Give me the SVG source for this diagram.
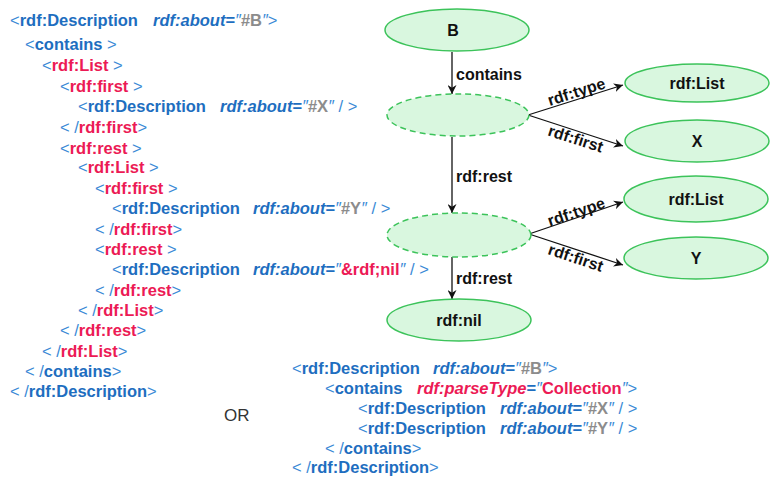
<svg xmlns="http://www.w3.org/2000/svg" width="784" height="487" viewBox="0 0 784 487">
<defs>
<marker id="ah" viewBox="0 0 10 10" refX="10" refY="5" markerWidth="9" markerHeight="9" markerUnits="userSpaceOnUse" orient="auto">
<path d="M0,0 L10,5 L0,10 L3,5 z" fill="#111"/>
</marker>
</defs>
<style>
text{font-family:"Liberation Sans",Arial,sans-serif;font-size:16.5px}
.t{fill:#1e6ec0;font-weight:bold}
.r{fill:#ec1a55;font-weight:bold}
.p{fill:#3a8ad6;font-weight:normal}
.i{font-style:italic}
.g{fill:#8c8c8c;font-weight:bold}
.q{fill:#3a8ad6;font-style:italic;font-weight:normal}
.n{fill:#111;font-weight:bold;font-size:16px;text-anchor:middle}
.e{fill:#111;font-weight:bold;font-size:16px}
.or{fill:#333;font-size:17px}
ellipse{fill:#d9f7df;stroke:#3cc35a;stroke-width:1.5}
.d{stroke-dasharray:6,4}
.c line{stroke:#111;stroke-width:1.3;marker-end:url(#ah)}
</style>
<rect width="784" height="487" fill="#fff"/>

<g id="xml-left">
<text x="10" y="26"><tspan class="p">&lt;</tspan><tspan class="t">rdf:Description</tspan><tspan x="153" class="t i">rdf:about</tspan><tspan class="t">=</tspan><tspan class="q">″</tspan><tspan class="g">#B</tspan><tspan class="q">″</tspan><tspan class="p">&gt;</tspan></text>
<text x="25" y="50"><tspan class="p">&lt;</tspan><tspan class="t">contains</tspan><tspan class="p"> &gt;</tspan></text>
<text x="42" y="71"><tspan class="p">&lt;</tspan><tspan class="r">rdf:List</tspan><tspan class="p"> &gt;</tspan></text>
<text x="60" y="92"><tspan class="p">&lt;</tspan><tspan class="r">rdf:first</tspan><tspan class="p"> &gt;</tspan></text>
<text x="78" y="112"><tspan class="p">&lt;</tspan><tspan class="t">rdf:Description</tspan><tspan x="220" class="t i">rdf:about</tspan><tspan class="t">=</tspan><tspan class="q">″</tspan><tspan class="g">#X</tspan><tspan class="q">″</tspan><tspan class="p"> / &gt;</tspan></text>
<text x="60" y="133"><tspan class="p">&lt; /</tspan><tspan class="r">rdf:first</tspan><tspan class="p">&gt;</tspan></text>
<text x="60" y="154"><tspan class="p">&lt;</tspan><tspan class="r">rdf:rest</tspan><tspan class="p"> &gt;</tspan></text>
<text x="78" y="173"><tspan class="p">&lt;</tspan><tspan class="r">rdf:List</tspan><tspan class="p"> &gt;</tspan></text>
<text x="95" y="194"><tspan class="p">&lt;</tspan><tspan class="r">rdf:first</tspan><tspan class="p"> &gt;</tspan></text>
<text x="112" y="214"><tspan class="p">&lt;</tspan><tspan class="t">rdf:Description</tspan><tspan x="253" class="t i">rdf:about</tspan><tspan class="t">=</tspan><tspan class="q">″</tspan><tspan class="g">#Y</tspan><tspan class="q">″</tspan><tspan class="p"> / &gt;</tspan></text>
<text x="95" y="235"><tspan class="p">&lt; /</tspan><tspan class="r">rdf:first</tspan><tspan class="p">&gt;</tspan></text>
<text x="95" y="255"><tspan class="p">&lt;</tspan><tspan class="r">rdf:rest</tspan><tspan class="p"> &gt;</tspan></text>
<text x="112" y="275"><tspan class="p">&lt;</tspan><tspan class="t">rdf:Description</tspan><tspan x="253" class="t i">rdf:about</tspan><tspan class="t">=</tspan><tspan class="q">″</tspan><tspan class="r">&amp;rdf;nil</tspan><tspan class="q">″</tspan><tspan class="p"> / &gt;</tspan></text>
<text x="95" y="296"><tspan class="p">&lt; /</tspan><tspan class="r">rdf:rest</tspan><tspan class="p">&gt;</tspan></text>
<text x="78" y="316"><tspan class="p">&lt; /</tspan><tspan class="r">rdf:List</tspan><tspan class="p">&gt;</tspan></text>
<text x="60" y="336"><tspan class="p">&lt; /</tspan><tspan class="r">rdf:rest</tspan><tspan class="p">&gt;</tspan></text>
<text x="42" y="357"><tspan class="p">&lt; /</tspan><tspan class="r">rdf:List</tspan><tspan class="p">&gt;</tspan></text>
<text x="25" y="377"><tspan class="p">&lt; /</tspan><tspan class="t">contains</tspan><tspan class="p">&gt;</tspan></text>
<text x="10" y="397"><tspan class="p">&lt; /</tspan><tspan class="t">rdf:Description</tspan><tspan class="p">&gt;</tspan></text>
</g>

<g id="or"><text class="or" x="224" y="421">OR</text></g>

<g id="xml-bottom">
<text x="292" y="374"><tspan class="p">&lt;</tspan><tspan class="t">rdf:Description</tspan><tspan x="433" class="t i">rdf:about</tspan><tspan class="t">=</tspan><tspan class="q">″</tspan><tspan class="g">#B</tspan><tspan class="q">″</tspan><tspan class="p">&gt;</tspan></text>
<text x="325" y="394"><tspan class="p">&lt;</tspan><tspan class="t">contains</tspan><tspan x="417" class="r i">rdf:parseType</tspan><tspan class="t">=</tspan><tspan class="q">″</tspan><tspan class="r">Collection</tspan><tspan class="q">″</tspan><tspan class="p">&gt;</tspan></text>
<text x="358" y="414"><tspan class="p">&lt;</tspan><tspan class="t">rdf:Description</tspan><tspan x="500" class="t i">rdf:about</tspan><tspan class="t">=</tspan><tspan class="q">″</tspan><tspan class="g">#X</tspan><tspan class="q">″</tspan><tspan class="p"> / &gt;</tspan></text>
<text x="358" y="434"><tspan class="p">&lt;</tspan><tspan class="t">rdf:Description</tspan><tspan x="500" class="t i">rdf:about</tspan><tspan class="t">=</tspan><tspan class="q">″</tspan><tspan class="g">#Y</tspan><tspan class="q">″</tspan><tspan class="p"> / &gt;</tspan></text>
<text x="325" y="454"><tspan class="p">&lt; /</tspan><tspan class="t">contains</tspan><tspan class="p">&gt;</tspan></text>
<text x="292" y="473"><tspan class="p">&lt; /</tspan><tspan class="t">rdf:Description</tspan><tspan class="p">&gt;</tspan></text>
</g>

<g id="connectors" class="c">
<line x1="452" y1="52" x2="452" y2="94"/>
<line x1="452" y1="137" x2="452" y2="213"/>
<line x1="452" y1="257" x2="452" y2="299"/>
<line x1="528" y1="115" x2="623" y2="85"/>
<line x1="528" y1="115" x2="623" y2="146"/>
<line x1="529" y1="234" x2="623" y2="202"/>
<line x1="529" y1="234" x2="623" y2="265"/>
<text class="e" x="456" y="80">contains</text>
<text class="e" x="456" y="182">rdf:rest</text>
<text class="e" x="456" y="284">rdf:rest</text>
<text class="e" text-anchor="middle" transform="translate(578,97) rotate(-17.7)">rdf:type</text>
<text class="e" text-anchor="middle" transform="translate(574,144) rotate(17.7)">rdf:first</text>
<text class="e" text-anchor="middle" transform="translate(578,217) rotate(-18.8)">rdf:type</text>
<text class="e" text-anchor="middle" transform="translate(574,263) rotate(18.3)">rdf:first</text>
</g>

<g id="node-B"><ellipse cx="457" cy="30" rx="72" ry="21"/><text class="n" x="453" y="36">B</text></g>
<g id="node-blank1"><ellipse class="d" cx="458" cy="115" rx="71" ry="21"/></g>
<g id="node-blank2"><ellipse class="d" cx="459" cy="235" rx="72" ry="22"/></g>
<g id="node-nil"><ellipse cx="459" cy="320" rx="72" ry="21"/><text class="n" x="459" y="326">rdf:nil</text></g>
<g id="node-List1"><ellipse cx="697" cy="83" rx="72" ry="19"/><text class="n" x="697" y="89">rdf:List</text></g>
<g id="node-X"><ellipse cx="697" cy="141" rx="72" ry="21"/><text class="n" x="697" y="147">X</text></g>
<g id="node-List2"><ellipse cx="696" cy="199" rx="72" ry="23"/><text class="n" x="696" y="205">rdf:List</text></g>
<g id="node-Y"><ellipse cx="696" cy="258" rx="72" ry="21"/><text class="n" x="696" y="264">Y</text></g>
</svg>
